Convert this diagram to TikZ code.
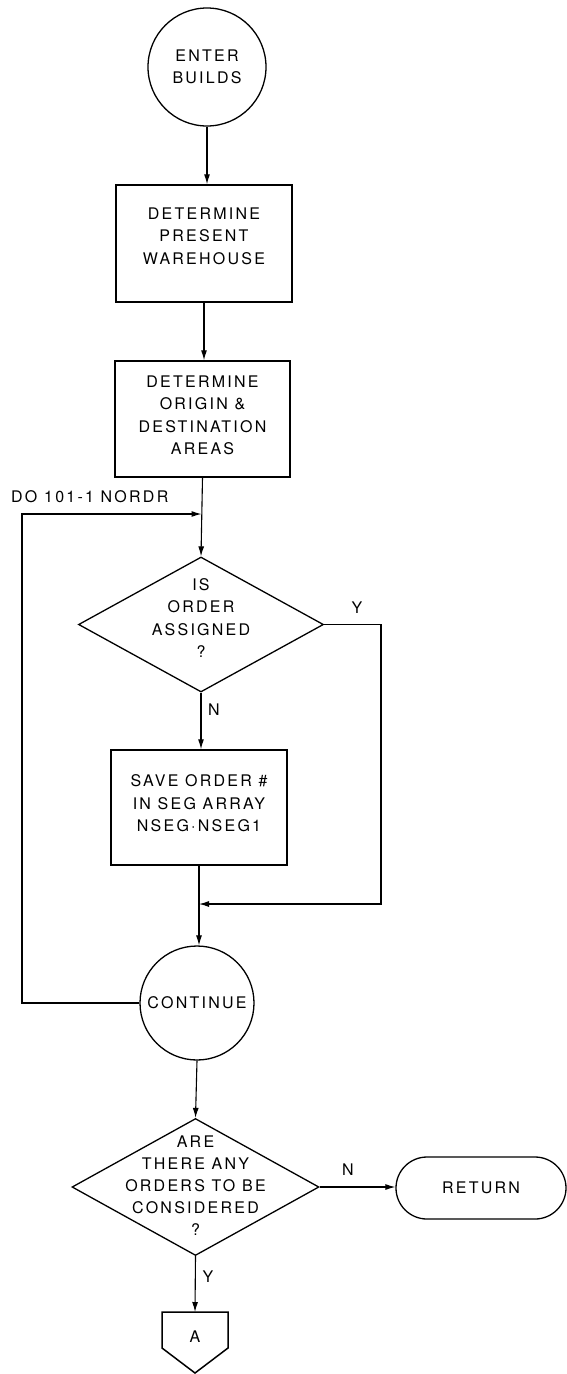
\documentclass[tikz,border=0pt]{standalone}
\usepackage{fontspec}
\setmainfont{TeX Gyre Heros}[LetterSpace=14]
\usetikzlibrary{arrows.meta,shapes.geometric}
\begin{document}
\begin{tikzpicture}[x=1pt,y=-1pt,
  every node/.style={font=\fontsize{16}{22.5}\selectfont, inner sep=0pt, align=center},
  proc/.style={draw, line width=1.5pt},
  term/.style={draw, circle, line width=1.3pt},
  dec/.style={draw, diamond, line width=1.3pt},
  conn/.style={line width=1.1pt},
  arr/.style={conn, -{Latex[length=10pt,width=6pt]}},
  lab/.style={font=\fontsize{16}{18}\selectfont}
]
\useasboundingbox (0,0) rectangle (567,1374);

% nodes
\node[term, minimum size=118pt] (enter) at (207,67) {ENTER\\BUILDS};

\node[proc, minimum width=176pt, minimum height=117pt] (b1) at (204,243.5) {};
\node (t1) at (204,236) {DETERMINE\\PRESENT\\WAREHOUSE};

\node[proc, minimum width=175pt, minimum height=116pt] (b2) at (202.5,419) {};
\node (t2) at (202.5,415.5) {DETERMINE\\ORIGIN \&\\DESTINATION\\AREAS};

\node[dec, minimum width=245pt, minimum height=135pt] (d1) at (201,624.5) {};
\node (t3) at (201,618) {IS\\ORDER\\ASSIGNED\\?};

\node[proc, minimum width=176pt, minimum height=115pt] (b3) at (199,807.5) {};
\node (t4) at (199,803.5) {SAVE ORDER \#\\IN SEG ARRAY\\NSEG·NSEG1};

\node[term, minimum size=114pt] (cont) at (197,1003) {CONTINUE};

\node[dec, minimum width=247pt, minimum height=137pt] (d2) at (195.5,1187) {};
\node[font=\fontsize{16}{22}\selectfont] (t5) at (195.5,1186) {ARE\\THERE ANY\\ORDERS TO BE\\CONSIDERED\\?};

\node[draw, line width=1.3pt, rounded corners=31pt, minimum width=170pt, minimum height=62pt] (ret) at (481,1188) {RETURN};

\draw[proc] (162,1312) -- (228,1312) -- (228,1348) -- (195,1373) -- (162,1348) -- cycle;
\node (A) at (195,1337) {A};
\coordinate (atop) at (195,1312);

% labels
\node[lab, anchor=west] (dolab) at (11,497) {DO 101-1 NORDR};
\node[lab] (y1) at (357,608) {Y};
\node[lab] (n1) at (214,710) {N};
\node[lab] (n2) at (348,1170) {N};
\node[lab] (y2) at (208,1277) {Y};

% coordinates
\coordinate (loopin) at (201.5,514);
\coordinate (lc) at (22,514);
\coordinate (ycorner) at (381,904);
\coordinate (merge) at (199,904);

% connectors
\draw[arr] (enter.south) -- (enter.south |- b1.north);
\draw[arr] (b1.south) -- (b1.south |- b2.north);
\draw[arr] (b2.south) -- (d1.north);
\draw[arr] (d1.south) -- (d1.south |- b3.north);
\draw[arr] (b3.south) -- (b3.south |- cont.north);
\draw[arr] (cont.south) -- (d2.north);
\draw[arr] (d2.east) -- (d2.east -| ret.west);
\draw[arr] (d2.south) -- (atop);
\draw[arr] (cont.west) -| (lc) -- (loopin);
\draw[arr] (d1.east) -| (ycorner) -- (merge);
\end{tikzpicture}
\end{document}
